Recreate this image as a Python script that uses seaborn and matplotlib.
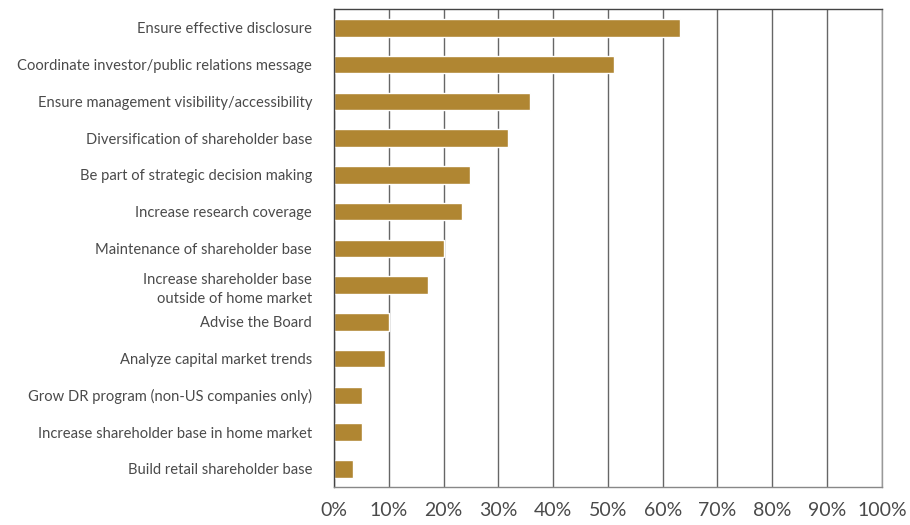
import matplotlib
matplotlib.use("Agg")
import matplotlib.pyplot as plt
import numpy as np
import pandas as pd
import seaborn as sns
from matplotlib.ticker import FixedLocator

# IR function priorities, share of respondents (%)
labels = [
    "Ensure effective disclosure ",
    "Coordinate investor/public relations message ",
    "Ensure management visibility/accessibility ",
    "Diversification of shareholder base ",
    "Be part of strategic decision making ",
    "Increase research coverage ",
    "Maintenance of shareholder base ",
    "Increase shareholder base \noutside of home market ",
    "Advise the Board ",
    "Analyze capital market trends ",
    "Grow DR program (non-US companies only) ",
    "Increase shareholder base in home market ",
    "Build retail shareholder base ",
]
values = [63.2, 51.2, 35.7, 31.7, 24.9, 23.3, 20.0, 17.1, 10.0, 9.3, 5.1, 5.1, 3.4]
x_ticks = [0, 10, 20, 30, 40, 50, 60, 70, 80, 90, 100]

df = pd.DataFrame({"label": labels, "value": values})

sns.set_style("white")
plt.rcParams["font.family"] = ["Lato", "DejaVu Sans"]

fig = plt.figure(figsize=(9.1, 5.25), dpi=100)
ax = fig.add_axes([0.367, 0.072, 0.602, 0.91])

sns.barplot(data=df, x="value", y="label", orient="h", color="#B08632",
            saturation=1, width=0.48, ax=ax)

ax.set_xlim(0, 100)
ax.set_ylim(len(labels) - 0.5, -0.5)
ax.set_xticks(x_ticks)
ax.set_xticklabels([f"{t}%" for t in x_ticks], fontsize=14, color="#4a4a4a")
ax.tick_params(axis="x", length=4, width=1, color="#666666", direction="out", pad=7)

# category labels without major tick marks, ticks between categories instead
ax.tick_params(axis="y", which="major", length=0, pad=13)
for t in ax.get_yticklabels():
    t.set_fontsize(10.6)
    t.set_color("#4a4a4a")
    t.set_horizontalalignment("right")
    t.set_multialignment("right")
    t.set_linespacing(1.45)
ax.yaxis.set_minor_locator(FixedLocator(np.arange(-0.5, len(labels), 1.0)))
ax.tick_params(axis="y", which="minor", length=4, width=1, color="#555555", direction="out")

ax.set_xlabel("")
ax.set_ylabel("")
ax.xaxis.grid(True, color="#666666", linewidth=1)
ax.set_axisbelow(True)

for side, col in [("left", "#444444"), ("top", "#444444"),
                  ("right", "#999999"), ("bottom", "#888888")]:
    ax.spines[side].set_visible(True)
    ax.spines[side].set_color(col)
    ax.spines[side].set_linewidth(1)

fig.savefig("out.png", dpi=100)
plt.close(fig)
